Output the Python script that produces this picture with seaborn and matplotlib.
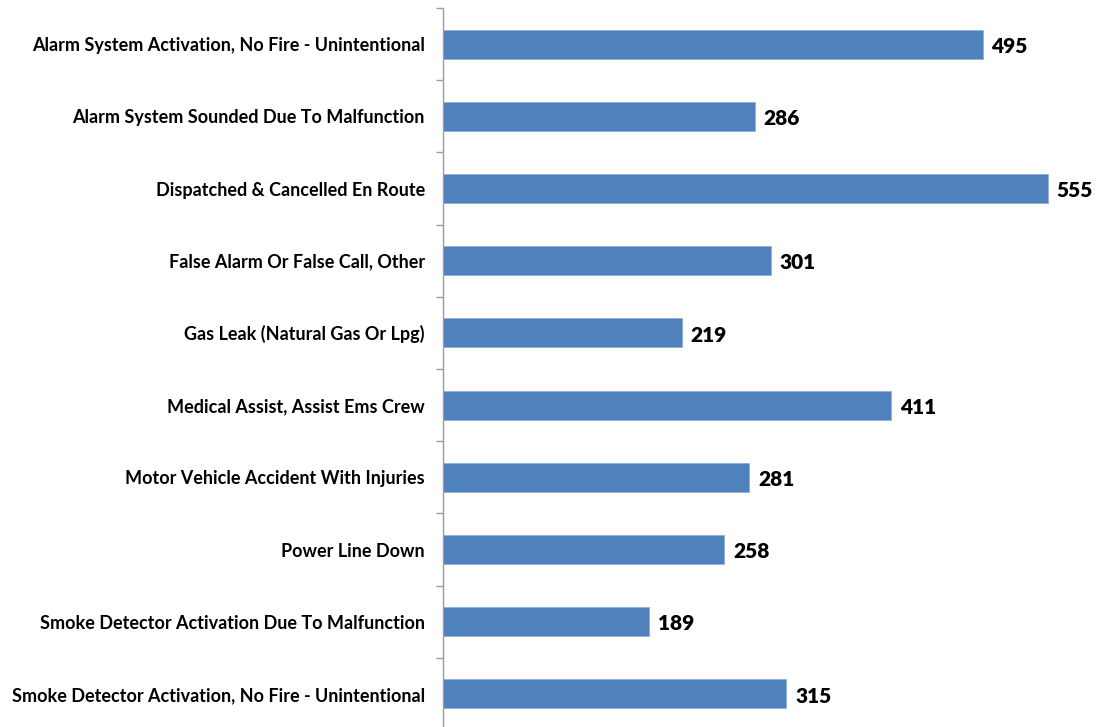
import pandas as pd
import numpy as np
import matplotlib
matplotlib.use('Agg')
import matplotlib.pyplot as plt
import seaborn as sns

# incident types and counts
incident_types = [
    'Alarm System Activation, No Fire - Unintentional',
    'Alarm System Sounded Due To Malfunction',
    'Dispatched & Cancelled En Route',
    'False Alarm Or False Call, Other',
    'Gas Leak (Natural Gas Or Lpg)',
    'Medical Assist, Assist Ems Crew',
    'Motor Vehicle Accident With Injuries',
    'Power Line Down',
    'Smoke Detector Activation Due To Malfunction',
    'Smoke Detector Activation, No Fire - Unintentional',
]
counts = [495, 286, 555, 301, 219, 411, 281, 258, 189, 315]

df = pd.DataFrame({'incident': incident_types, 'count': counts})

sns.set_theme(style='white')
plt.rcParams['font.family'] = ['Lato', 'DejaVu Sans']

fig = plt.figure(figsize=(10.96, 7.27), dpi=100)
ax = fig.add_axes([0.4042, -0.0041, 0.5958, 0.993])

sns.barplot(data=df, x='count', y='incident', orient='h', color='#4F81BD',
            width=0.4, saturation=1, edgecolor='#8FB0DA', linewidth=0.6, ax=ax)

ax.set_xlim(0, 599)
ax.set_ylim(len(df) - 0.5, -0.5)

for i, v in enumerate(df['count']):
    ax.text(v + 8, i + 0.03, str(v), va='center', ha='left',
            fontsize=15, fontweight='heavy', color='#000000')

for s in ['top', 'right', 'bottom']:
    ax.spines[s].set_visible(False)
ax.spines['left'].set_color('#9A9A9A')
ax.spines['left'].set_linewidth(1.0)

ax.set_xticks([])
ax.set_xlabel('')
ax.set_ylabel('')
ax.set_yticks(np.arange(len(df)))
ax.set_yticklabels(df['incident'], fontsize=13, fontweight='bold', color='#000000')
ax.tick_params(axis='y', which='major', length=0, pad=13)
ax.set_yticks(np.arange(len(df) + 1) - 0.5, minor=True)
ax.tick_params(axis='y', which='minor', length=5, width=1, color='#9A9A9A', left=True)

fig.savefig('out.png', dpi=100)
